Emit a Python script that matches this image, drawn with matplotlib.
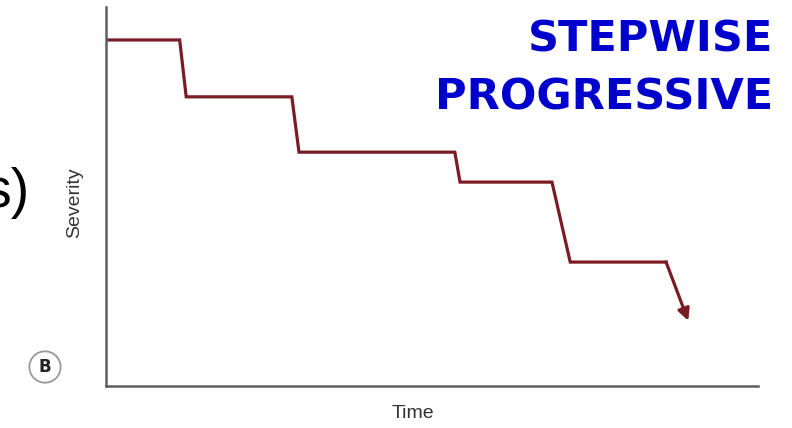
import matplotlib.pyplot as plt

# stepwise decline (time and severity on a 0-100 scale)
time = [0, 11.3, 12.3, 28.5, 29.6, 53.5, 54.3, 68.4, 71.2, 85.9]
severity = [91.3, 91.3, 76.3, 76.3, 61.7, 61.7, 53.8, 53.8, 32.7, 32.7]
arrow_end = (89.3, 17.2)

line_color = "#7a1c24"
axis_color = "#5f5f5f"

fig = plt.figure(figsize=(7.92, 4.28), dpi=100)
ax = fig.add_axes([106 / 792, 42 / 428, 652 / 792, 379 / 428])
ax.set_xlim(0, 100)
ax.set_ylim(0, 100)

ax.plot(time, severity, color=line_color, lw=2.3, solid_joinstyle="miter")
ax.annotate("", xy=arrow_end, xytext=(time[-1], severity[-1]),
            arrowprops=dict(arrowstyle="-|>,head_length=0.7,head_width=0.35",
                            color=line_color, lw=2.3, shrinkA=0, shrinkB=0))

for side in ["top", "right"]:
    ax.spines[side].set_visible(False)
for side in ["left", "bottom"]:
    ax.spines[side].set_color(axis_color)
    ax.spines[side].set_linewidth(1.8)
ax.set_xticks([])
ax.set_yticks([])

fig.text(413 / 792, 1 - 414 / 428, "Time", ha="center", va="center",
         fontsize=14, color="#333333", family="Liberation Sans")
fig.text(75 / 792, 1 - 203 / 428, "Severity", ha="center", va="center",
         rotation=90, fontsize=14, color="#333333", family="Liberation Sans")

# circled panel letter
fig.text(45 / 792, 1 - 367 / 428, "B", ha="center", va="center",
         fontsize=12, fontweight="bold", color="#222222",
         bbox=dict(boxstyle="circle,pad=0.4", fc="white", ec="#999999", lw=1.3))

# leftover of a cropped slide text, cut at the left edge as in the source
fig.text(30 / 792, 1 - 193 / 428, "s)", ha="right", va="center",
         fontsize=40, color="black", family="Liberation Sans")

fig.text(773 / 792, 1 - 40 / 428, "STEPWISE", ha="right", va="center",
         fontsize=31, fontweight="bold", color="#0000cc")
fig.text(773 / 792, 1 - 97 / 428, "PROGRESSIVE", ha="right", va="center",
         fontsize=31, fontweight="bold", color="#0000cc")

fig.savefig("out.png", dpi=100)
